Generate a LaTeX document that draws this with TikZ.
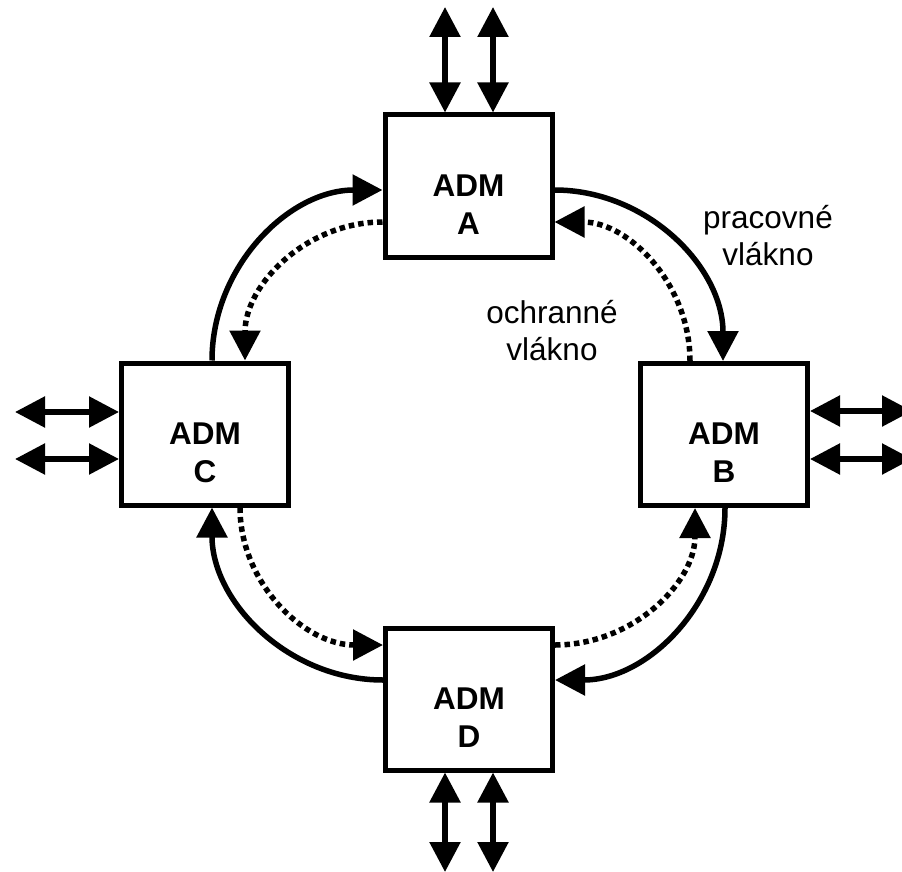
\documentclass[tikz,border=0pt]{standalone}
\usepackage{fontspec}
\setmainfont{Liberation Sans}
\usetikzlibrary{arrows.meta,calc}
\begin{document}
\begin{tikzpicture}[x=1pt,y=-1pt,
  box/.style={draw, line width=5pt, minimum width=167pt, minimum height=142pt, inner sep=0pt},
  admtext/.style={font=\fontsize{31.5}{37}\selectfont\bfseries, anchor=base, inner sep=0pt},
  note/.style={font=\fontsize{31.5}{37}\selectfont, anchor=base, inner sep=0pt},
  fibre/.style={line width=5.5pt},
  tip/.style={-{Triangle[length=30pt,width=30pt]}},
  work/.style={fibre, tip},
  guard/.style={fibre, dash pattern=on 5.5pt off 4pt, tip},
  port/.style={fibre, {Triangle[length=30pt,width=30pt]}-{Triangle[length=30pt,width=30pt]}},
]
\useasboundingbox (0,0) rectangle (902,872);
\fill[white] (0,0) rectangle (902,872);
\clip (0,0) rectangle (902,872);

% the four multiplexers
\node[box] (A) at (468.5,186) {};
\node[box] (B) at (724,434.5) {};
\node[box] (C) at (205,434) {};
\node[box] (D) at (469,699) {};

\node[admtext] (A1) at ($(A.center)+(0,10)$) {ADM};
\node[admtext] (A2) at ($(A.center)+(0,48)$) {A};
\node[admtext] (B1) at ($(B.center)+(0,10)$) {ADM};
\node[admtext] (B2) at ($(B.center)+(0,48)$) {B};
\node[admtext] (C1) at ($(C.center)+(0,10)$) {ADM};
\node[admtext] (C2) at ($(C.center)+(0,48)$) {C};
\node[admtext] (D1) at ($(D.center)+(0,10)$) {ADM};
\node[admtext] (D2) at ($(D.center)+(0,48)$) {D};

% tributary ports
\coordinate (At1) at (445,7);
\coordinate (At2) at (493,7);
\coordinate (Db1) at (445,872);
\coordinate (Db2) at (493,872);
\coordinate (Cl1) at (15,412);
\coordinate (Cl2) at (15,459);
\coordinate (Br1) at (912,411);
\coordinate (Br2) at (912,459);
\draw[port] (A.north -| At1) -- (At1);
\draw[port] (A.north -| At2) -- (At2);
\draw[port] (D.south -| Db1) -- (Db1);
\draw[port] (D.south -| Db2) -- (Db2);
\draw[port] (C.west |- Cl1) -- (Cl1);
\draw[port] (C.west |- Cl2) -- (Cl2);
\draw[port] (B.east |- Br1) -- (Br1);
\draw[port] (B.east |- Br2) -- (Br2);

% ring end points
\coordinate (abS) at (A.east |- 0,190);
\coordinate (abT) at (B.north -| 723,0);
\coordinate (baS) at (B.north -| 690,0);
\coordinate (baT) at (A.east |- 0,222);
\coordinate (caS) at (C.north -| 212,0);
\coordinate (caT) at (A.west |- 0,190);
\coordinate (acS) at (A.west |- 0,222);
\coordinate (acT) at (C.north -| 245,0);
\coordinate (dcS) at (D.west |- 0,680);
\coordinate (dcT) at (C.south -| 212,0);
\coordinate (cdS) at (C.south -| 240,0);
\coordinate (cdT) at (D.west |- 0,645);
\coordinate (bdS) at (B.south -| 725,0);
\coordinate (bdT) at (D.east |- 0,680);
\coordinate (dbS) at (D.east |- 0,645);
\coordinate (dbT) at (B.south -| 695,0);

% working fibre (clockwise)
\draw[work] (abS) .. controls ($(abS)!0.55!(abT |- abS)$) and ($(abT)!0.55!(abT |- abS)$) .. (abT);
\draw[work] (bdS) .. controls ($(bdS)!0.55!(bdS |- bdT)$) and ($(bdT)!0.55!(bdS |- bdT)$) .. (bdT);
\draw[work] (dcS) .. controls ($(dcS)!0.55!(dcT |- dcS)$) and ($(dcT)!0.55!(dcT |- dcS)$) .. (dcT);
\draw[work] (caS) .. controls ($(caS)!0.55!(caS |- caT)$) and ($(caT)!0.55!(caS |- caT)$) .. (caT);

% protection fibre (counter-clockwise)
\draw[guard] (baS) .. controls ($(baS)!0.55!(baS |- baT)$) and ($(baT)!0.55!(baS |- baT)$) .. (baT);
\draw[guard] (acS) .. controls ($(acS)!0.55!(acT |- acS)$) and ($(acT)!0.55!(acT |- acS)$) .. (acT);
\draw[guard] (cdS) .. controls ($(cdS)!0.55!(cdS |- cdT)$) and ($(cdT)!0.55!(cdS |- cdT)$) .. (cdT);
\draw[guard] (dbS) .. controls ($(dbS)!0.55!(dbT |- dbS)$) and ($(dbT)!0.55!(dbT |- dbS)$) .. (dbT);

% fibre labels
\node[note] (w1) at (768,228) {pracovné};
\node[note] (w2) at (768,265) {vlákno};
\node[note] (p1) at (552,323) {ochranné};
\node[note] (p2) at (552,360) {vlákno};
\end{tikzpicture}
\end{document}
